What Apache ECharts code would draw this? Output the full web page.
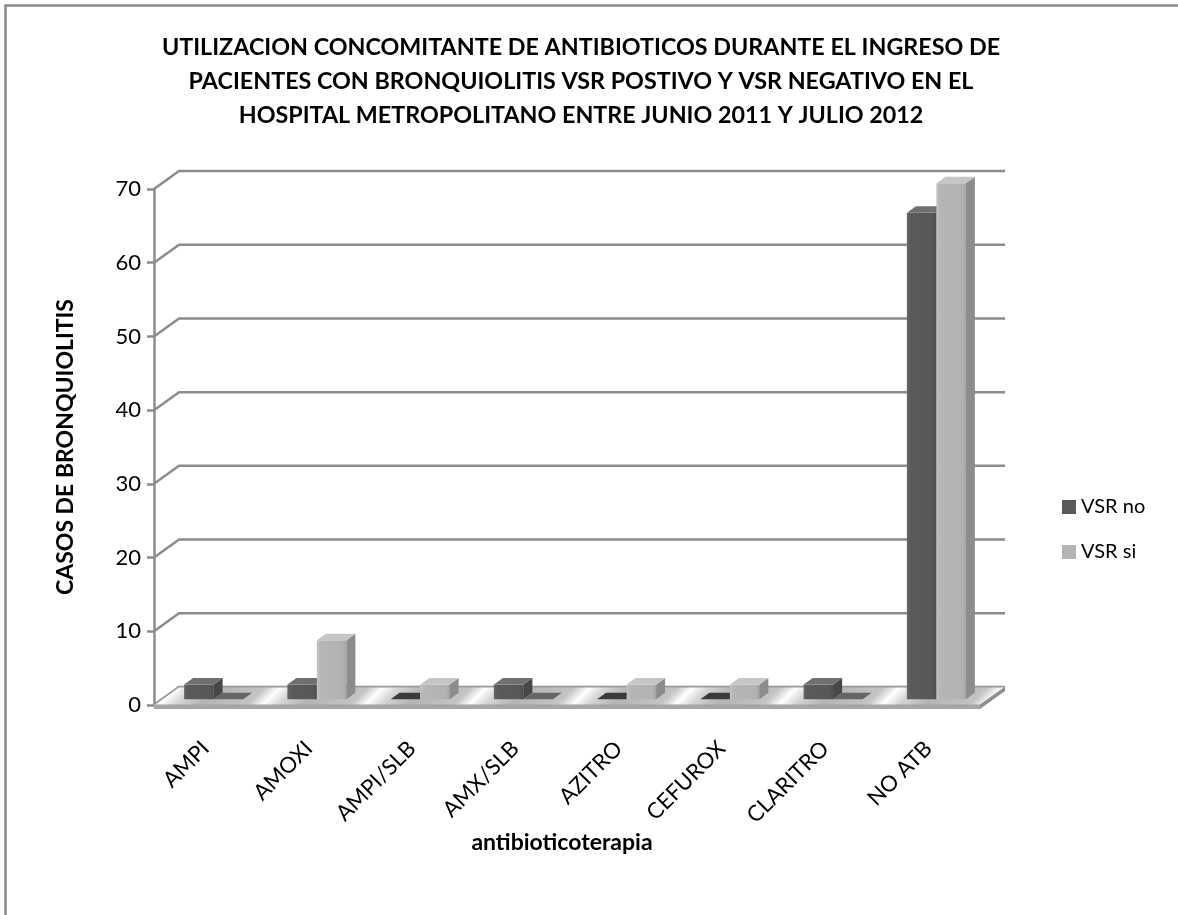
<!DOCTYPE html>
<html>
<head>
<meta charset="utf-8">
<script src="https://cdn.jsdelivr.net/npm/echarts@6/dist/echarts.min.js"></script>
<style>
  html, body { margin: 0; padding: 0; background: #fff; }
  #chart { width: 1178px; height: 915px; }
</style>
</head>
<body>
<div id="chart"></div>
<script>
// Antibiotic use during admission, RSV-negative vs RSV-positive bronchiolitis
const categories = ['AMPI', 'AMOXI', 'AMPI/SLB', 'AMX/SLB', 'AZITRO', 'CEFUROX', 'CLARITRO', 'NO ATB'];
const vsrNo = [2, 2, 0, 2, 0, 0, 2, 66];
const vsrSi = [0, 8, 2, 0, 2, 2, 0, 70];
const yTicks = [0, 10, 20, 30, 40, 50, 60, 70];
const seriesNames = ['VSR no', 'VSR si'];

const FONT = 'Lato';
// depth of the 3D box (pixel shift from front to back plane)
const DX = 25, DY = -18;
// bars sit between these depth fractions
const F1 = 0.32, F2 = 0.68;

const palettes = [
  { front: ['#666666', '#5a5a5a', '#585858', '#4c4c4c'], top: '#707070', side: '#474747', flat: '#3a3a3a' },
  { front: ['#c4c4c4', '#b6b6b6', '#b2b2b2', '#a4a4a4'], top: '#c6c6c6', side: '#8c8c8c', flat: '#666666' }
];

function shift(pt, f) { return [pt[0] + f * DX, pt[1] + f * DY]; }

function barRenderer(sIdx) {
  const pal = palettes[sIdx];
  return function (params, api) {
    const i = api.value(0), v = api.value(1);
    const base = api.coord([i, 0]);
    const top = api.coord([i, v]);
    const catW = api.size([1, 0])[0];
    const bw = catW / 3.5;
    const xL = base[0] - bw + sIdx * bw;
    const xR = xL + bw;
    const yB = base[1], yT = top[1];
    const children = [];
    const topFace = [shift([xL, yT], F1), shift([xR, yT], F1), shift([xR, yT], F2), shift([xL, yT], F2)];
    if (v === 0) {
      children.push({ type: 'polygon', shape: { points: topFace }, style: { fill: pal.flat } });
      return { type: 'group', children };
    }
    const fl = shift([xL, yT], F1);
    children.push({
      type: 'rect',
      shape: { x: fl[0], y: fl[1], width: bw, height: yB - yT },
      style: {
        fill: {
          type: 'linear', x: 0, y: 0, x2: 1, y2: 0,
          colorStops: [
            { offset: 0, color: pal.front[0] }, { offset: 0.12, color: pal.front[1] },
            { offset: 0.88, color: pal.front[2] }, { offset: 1, color: pal.front[3] }
          ]
        }
      }
    });
    children.push({
      type: 'polygon',
      shape: { points: [shift([xR, yT], F1), shift([xR, yT], F2), shift([xR, yB], F2), shift([xR, yB], F1)] },
      style: { fill: pal.side }
    });
    children.push({ type: 'polygon', shape: { points: topFace }, style: { fill: pal.top } });
    return { type: 'group', children };
  };
}

// back-wall gridlines: tick on the front axis, diagonal into depth, then along the wall
function gridRenderer(params, api) {
  const cs = params.coordSys;
  const p = api.coord([0, api.value(1)]);
  const x0 = cs.x, y = p[1];
  return {
    type: 'polyline',
    shape: { points: [[x0, y], [x0 + DX, y + DY], [cs.x + cs.width + DX, y + DY]] },
    style: { stroke: '#8c8c8c', lineWidth: 2.5, fill: null }
  };
}

// chart floor with its thin front and side edges
function floorRenderer(params, api) {
  const cs = params.coordSys;
  const y = api.coord([0, 0])[1];
  const x0 = cs.x, x1 = cs.x + cs.width;
  const T = 4;
  const P = api.size([1, 0])[0];
  const stops = [];
  const n = 9;
  for (let k = 0; k < n; k++) {
    const a = k / n, w = 1 / n;
    stops.push({ offset: a, color: '#b4b4b4' });
    stops.push({ offset: a + w * 0.45, color: '#c4c4c4' });
    stops.push({ offset: a + w * 0.6, color: '#ffffff' });
    stops.push({ offset: a + w * 0.75, color: '#d6d6d6' });
    stops.push({ offset: a + w * 0.999, color: '#b4b4b4' });
  }
  const L = n * P / 2;
  return {
    type: 'group',
    children: [
      {
        type: 'polygon',
        shape: { points: [[x0, y], [x1, y], [x1 + DX, y + DY], [x0 + DX, y + DY]] },
        style: {
          fill: { type: 'linear', global: true, x: x0 - P * 0.55, y: y, x2: x0 - P * 0.55 + L, y2: y + L, colorStops: stops },
          stroke: '#a0a0a0', lineWidth: 1
        }
      },
      {
        type: 'polygon',
        shape: { points: [[x0, y], [x1, y], [x1, y + T], [x0, y + T]] },
        style: { fill: '#a6a6a6' }
      },
      {
        type: 'polygon',
        shape: { points: [[x1, y], [x1 + DX, y + DY], [x1 + DX, y + DY + T], [x1, y + T]] },
        style: { fill: '#8e8e8e' }
      }
    ]
  };
}

const chart = echarts.init(document.getElementById('chart'), null, { renderer: 'canvas' });

chart.setOption({
  backgroundColor: '#ffffff',
  animation: false,
  textStyle: { fontFamily: FONT },
  title: {
    text: 'UTILIZACION CONCOMITANTE DE ANTIBIOTICOS DURANTE EL INGRESO DE\nPACIENTES CON BRONQUIOLITIS VSR POSTIVO Y VSR NEGATIVO EN EL\nHOSPITAL METROPOLITANO ENTRE JUNIO 2011 Y JULIO 2012',
    left: 576,
    top: 25,
    textAlign: 'center',
    textStyle: { fontFamily: FONT, fontWeight: 'bold', fontSize: 23.3, lineHeight: 34, color: '#000' }
  },
  legend: {
    data: seriesNames,
    orient: 'vertical',
    left: 1057,
    top: 492,
    itemWidth: 14,
    itemHeight: 14,
    itemGap: 25,
    icon: 'rect',
    textStyle: { fontFamily: FONT, fontSize: 20, color: '#000' }
  },
  graphic: [
    { type: 'rect', shape: { x: 5.5, y: 5.5, width: 1300, height: 1100 }, style: { fill: null, stroke: '#8a8a8a', lineWidth: 2.5 }, z: -10 }
  ],
  grid: { left: 154, right: 198, top: 189, bottom: 210 },
  xAxis: {
    type: 'category',
    data: categories,
    axisLine: { show: false },
    axisTick: { show: false },
    axisLabel: { rotate: 45, margin: 40, fontFamily: FONT, fontSize: 22, color: '#000' },
    name: 'antibioticoterapia',
    nameLocation: 'middle',
    nameGap: 126,
    nameMoveOverlap: false,
    nameTextStyle: { fontFamily: FONT, fontWeight: 'bold', fontSize: 23, color: '#000', padding: [0, 10, 0, 0] }
  },
  yAxis: {
    type: 'value',
    min: 0,
    max: 70,
    interval: 10,
    axisLine: { show: true, lineStyle: { color: '#8c8c8c', width: 2.5 } },
    axisTick: { show: true, length: 7, lineStyle: { color: '#8c8c8c', width: 2.5 } },
    axisLabel: { fontFamily: FONT, fontSize: 22, color: '#000', margin: 13 },
    splitLine: { show: false },
    name: 'CASOS DE BRONQUIOLITIS',
    nameLocation: 'middle',
    nameRotate: 90,
    nameGap: 77,
    nameMoveOverlap: false,
    nameTextStyle: { fontFamily: FONT, fontWeight: 'bold', fontSize: 23, color: '#000' }
  },
  series: [
    {
      type: 'custom', name: 'grid', silent: true,
      renderItem: gridRenderer,
      data: yTicks.map(v => [0, v]),
      encode: { x: 0, y: 1 }
    },
    {
      type: 'custom', name: 'floor', silent: true,
      renderItem: floorRenderer,
      data: [[0, 0]],
      encode: { x: 0, y: 1 }
    },
    {
      type: 'custom', name: seriesNames[0],
      itemStyle: { color: '#5a5a5a' },
      renderItem: barRenderer(0),
      data: vsrNo.map((v, i) => [i, v]),
      encode: { x: 0, y: 1 }
    },
    {
      type: 'custom', name: seriesNames[1],
      itemStyle: { color: '#b4b4b4' },
      renderItem: barRenderer(1),
      data: vsrSi.map((v, i) => [i, v]),
      encode: { x: 0, y: 1 }
    }
  ]
});
</script>
</body>
</html>
